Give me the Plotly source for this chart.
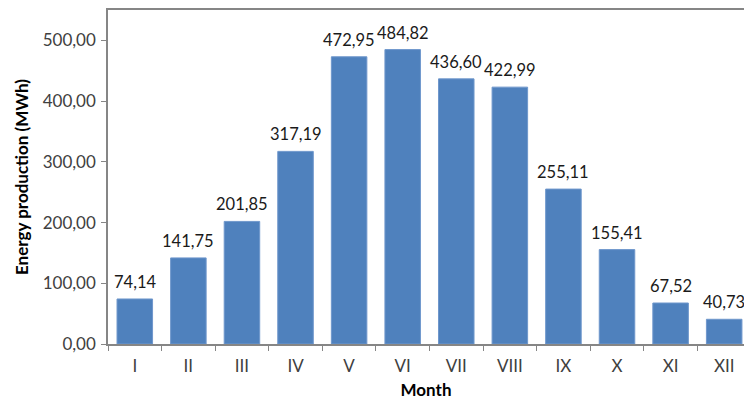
import plotly.graph_objects as go

months = ["I", "II", "III", "IV", "V", "VI", "VII", "VIII", "IX", "X", "XI", "XII"]
energy = [74.14, 141.75, 201.85, 317.19, 472.95, 484.82, 436.60, 422.99, 255.11, 155.41, 67.52, 40.73]
y_ticks = [0, 100, 200, 300, 400, 500]

FONT = "Lato, 'Liberation Sans', sans-serif"
AXIS_COLOR = "#868686"

fig = go.Figure()
fig.add_trace(go.Bar(
    x=list(range(len(months))),
    y=energy,
    marker=dict(color="#4F81BD", line=dict(color="#6F97CC", width=1)),
    hoverinfo="skip",
))

for i, v in enumerate(energy):
    fig.add_annotation(
        x=i, y=v, text=f"{v:.2f}".replace(".", ","),
        showarrow=False, yanchor="bottom", yshift=5,
        font=dict(family=FONT, size=16.5, color="#1a1a1a"),
    )

fig.update_layout(
    width=744, height=400,
    margin=dict(l=108, r=0, t=10, b=56, autoexpand=False),
    paper_bgcolor="white", plot_bgcolor="white",
    bargap=0.337,
    separators=",.",
    showlegend=False,
    font=dict(family=FONT, size=17, color="#404040"),
)

fig.update_xaxes(
    range=[-0.5, 11.37], automargin=False,
    tickmode="array", tickvals=list(range(len(months))), ticktext=months,
    showline=True, linecolor=AXIS_COLOR, linewidth=1.5, mirror=True,
    showgrid=False, zeroline=False,
    ticks="", ticklabelstandoff=6,
    tickfont=dict(family=FONT, size=17, color="#404040"),
    title=dict(text="<b>Month</b>", font=dict(family=FONT, size=17, color="#000000"), standoff=12),
)

fig.update_xaxes(minor=dict(tickmode="array", tickvals=[i + 0.5 for i in range(-1, len(months))],
                            ticks="outside", ticklen=5, tickcolor=AXIS_COLOR, tickwidth=1, showgrid=False))

fig.update_yaxes(
    range=[0, 550], automargin=False,
    tickmode="array", tickvals=y_ticks, tickformat=".2f",
    showline=True, linecolor=AXIS_COLOR, linewidth=1.5,
    showgrid=False, zeroline=False,
    ticks="outside", ticklen=5, tickcolor=AXIS_COLOR, ticklabelstandoff=2,
    tickfont=dict(family=FONT, size=17, color="#404040"),
    title=dict(text="<b>Energy production (MWh)</b>", font=dict(family=FONT, size=17, color="#000000"), standoff=10),
)

fig.write_html("out.html", config={"displayModeBar": False},
               post_script="document.body.style.margin='0';")
